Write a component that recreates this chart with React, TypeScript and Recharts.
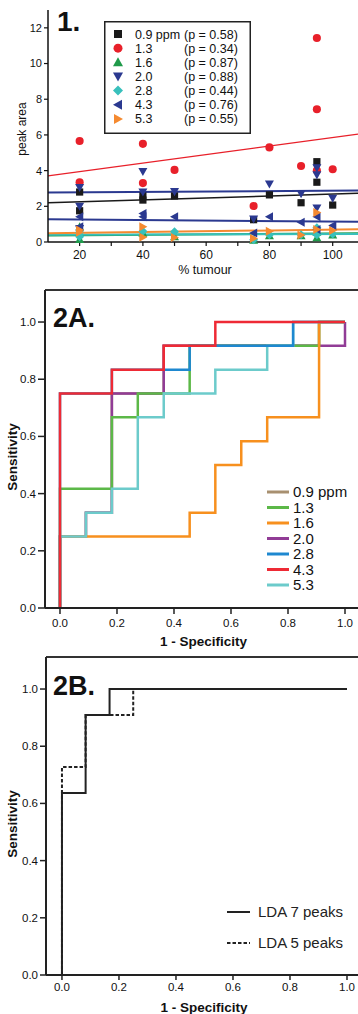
import React from 'react';
import {
  ScatterChart,
  Scatter,
  LineChart,
  Line,
  XAxis,
  YAxis,
  ReferenceLine,
  Legend,
  Label,
} from 'recharts';

const FONT = '"Liberation Sans", Arial, Helvetica, sans-serif';

// ---------- Panel 1: peak area vs % tumour ----------
const tumourTicks = [20, 30, 40, 50, 60, 70, 80, 90, 100];
const peakTicks = [0, 2, 4, 6, 8, 10, 12];

const pts09 = [[20, 2.8], [20, 1.75], [40, 2.58], [40, 2.35], [50, 2.58], [75, 1.25], [80, 2.64], [90, 2.2], [95, 4.5], [95, 3.35], [100, 2.07]];
const pts13 = [[20, 5.66], [20, 3.35], [40, 5.5], [40, 3.3], [50, 4.04], [75, 2.02], [80, 5.3], [90, 4.26], [95, 11.43], [95, 7.44], [95, 4.0], [100, 4.08]];
const pts16 = [[20, 0.85], [20, 0.15], [40, 0.5], [50, 0.3], [75, 0.1], [80, 0.35], [90, 0.35], [95, 0.25], [95, 0.55], [100, 0.4]];
const pts20 = [[20, 3.05], [20, 2.0], [20, 0.75], [40, 3.95], [40, 2.8], [50, 2.82], [75, 1.29], [80, 3.25], [90, 2.7], [95, 4.15], [95, 3.76], [95, 1.9], [100, 2.45]];
const pts28 = [[20, 0.3], [20, 0.55], [40, 0.6], [50, 0.58], [75, 0.12], [80, 0.4], [90, 0.4], [95, 0.8], [95, 0.4], [100, 0.45]];
const pts43 = [[20, 1.42], [20, 0.85], [40, 1.6], [40, 1.42], [50, 1.42], [75, 0.5], [80, 1.42], [90, 1.1], [95, 1.42], [95, 0.7], [100, 0.92]];
const pts53 = [[20, 0.67], [20, 0.55], [40, 0.86], [40, 0.26], [50, 0.25], [75, 0.2], [80, 0.6], [90, 0.39], [95, 1.65], [95, 0.7], [100, 0.64]];

// trend line end values at x = 10 and x = 108
const trendX = [10, 108];
const trend09 = [2.2, 2.73];
const trend13 = [3.7, 6.04];
const trend16 = [0.36, 0.49];
const trend20 = [2.77, 2.88];
const trend28 = [0.4, 0.45];
const trend43 = [1.27, 1.14];
const trend53 = [0.49, 0.71];

const peakLabels = ['0.9 ppm', '1.3', '1.6', '2.0', '2.8', '4.3', '5.3'];
const peakP = ['0.58', '0.34', '0.87', '0.88', '0.44', '0.76', '0.55'];

const scatterSeries = [
  { key: 's09', kind: 'square', color: '#1a1a1a', pts: pts09, trend: trend09, lw: 1.5 },
  { key: 's13', kind: 'circle', color: '#e8202a', pts: pts13, trend: trend13, lw: 1.2 },
  { key: 's16', kind: 'up', color: '#1f9a4a', pts: pts16, trend: trend16, lw: 2 },
  { key: 's20', kind: 'down', color: '#2b3990', pts: pts20, trend: trend20, lw: 2 },
  { key: 's28', kind: 'diamond', color: '#38c0bc', pts: pts28, trend: trend28, lw: 2 },
  { key: 's43', kind: 'left', color: '#2b3990', pts: pts43, trend: trend43, lw: 2 },
  { key: 's53', kind: 'right', color: '#f58a30', pts: pts53, trend: trend53, lw: 2 },
];

// ---------- Panel 2A: ROC curves per peak ----------
const rocTicks = [0, 0.2, 0.4, 0.6, 0.8, 1.0];
const roc09 = [[0, 0], [0, 0.25], [0.091, 0.333], [0.182, 0.75], [0.364, 0.917], [0.909, 1], [1, 1]];
const roc13 = [[0, 0], [0, 0.417], [0.182, 0.667], [0.273, 0.75], [0.455, 0.833], [0.455, 0.917], [0.909, 1], [1, 1]];
const roc16 = [[0, 0], [0, 0.25], [0.455, 0.333], [0.545, 0.5], [0.636, 0.583], [0.727, 0.667], [0.909, 1], [1, 1]];
const roc20 = [[0, 0], [0, 0.25], [0.091, 0.333], [0.182, 0.75], [0.364, 0.917], [1, 1]];
const roc28 = [[0, 0], [0, 0.75], [0.182, 0.833], [0.455, 0.917], [0.818, 1], [1, 1]];
const roc43 = [[0, 0], [0, 0.75], [0.182, 0.833], [0.364, 0.917], [0.545, 1], [1, 1]];
const roc53 = [[0, 0], [0, 0.25], [0.091, 0.333], [0.182, 0.417], [0.273, 0.667], [0.364, 0.75], [0.545, 0.833], [0.727, 0.917], [0.818, 1], [1, 1]];

const rocLabels = ['0.9 ppm', '1.3', '1.6', '2.0', '2.8', '4.3', '5.3'];
const rocColors = ['#a89070', '#5cb848', '#f7901e', '#913c96', '#1e88d0', '#ee2a35', '#6ccbcb'];
const rocSets = [roc09, roc13, roc16, roc20, roc28, roc43, roc53];
const rocDrawOrder = [0, 3, 1, 2, 6, 4, 5];

// ---------- Panel 2B: LDA ROC ----------
const lda7 = [[0, 0], [0, 0.636], [0.083, 0.909], [0.167, 1], [1, 1]];
const lda5 = [[0, 0], [0, 0.727], [0.083, 0.909], [0.25, 1], [1, 1]];
const ldaLabels = ['LDA 7 peaks', 'LDA 5 peaks'];

const toXY = (a: number[][]) => a.map(([x, y]) => ({ x, y }));
const toROC = (a: number[][]) => a.map(([fpr, tpr]) => ({ fpr, tpr }));
const f1 = (v: number) => v.toFixed(1);

function Marker({ cx, cy, kind, color, s = 4.5 }: any) {
  if (cx == null || cy == null) return null;
  const h = s * 0.8;
  switch (kind) {
    case 'square':
      return <rect x={cx - s * 0.8} y={cy - s * 0.8} width={s * 1.6} height={s * 1.6} fill={color} />;
    case 'circle':
      return <circle cx={cx} cy={cy} r={s * 0.9} fill={color} />;
    case 'up':
      return <polygon points={`${cx},${cy - s} ${cx + s},${cy + h} ${cx - s},${cy + h}`} fill={color} />;
    case 'down':
      return <polygon points={`${cx - s},${cy - h} ${cx + s},${cy - h} ${cx},${cy + s}`} fill={color} />;
    case 'left':
      return <polygon points={`${cx - s},${cy} ${cx + h},${cy - s} ${cx + h},${cy + s}`} fill={color} />;
    case 'right':
      return <polygon points={`${cx + s},${cy} ${cx - h},${cy - s} ${cx - h},${cy + s}`} fill={color} />;
    case 'diamond':
      return <polygon points={`${cx},${cy - s} ${cx + s},${cy} ${cx},${cy + s} ${cx - s},${cy}`} fill={color} />;
    default:
      return null;
  }
}

const Legend1 = () => (
  <svg width={147} height={113} style={{ display: 'block' }}>
    <rect x={0.75} y={0.75} width={145.5} height={111.5} fill="#fff" stroke="#222" strokeWidth={1.5} />
    {scatterSeries.map((s, i) => {
      const cy = 13 + i * 14.15;
      return (
        <g key={s.key}>
          <Marker cx={14} cy={cy} kind={s.kind} color={s.color} s={5} />
          <text x={31} y={cy + 4.5} fontSize={12.5} fontFamily={FONT} fill="#111">{peakLabels[i]}</text>
          <text x={80} y={cy + 4.5} fontSize={12.5} fontFamily={FONT} fill="#111">{`(p = ${peakP[i]})`}</text>
        </g>
      );
    })}
  </svg>
);

const Legend2A = () => (
  <svg width={93} height={112} style={{ display: 'block' }}>
    {rocLabels.map((l, i) => {
      const cy = 10 + i * 15.5;
      return (
        <g key={l}>
          <line x1={2} x2={24} y1={cy} y2={cy} stroke={rocColors[i]} strokeWidth={3} />
          <text x={28} y={cy + 5.4} fontSize={15} fontFamily={FONT} fill="#111">{l}</text>
        </g>
      );
    })}
  </svg>
);

const Legend2B = () => (
  <svg width={133} height={56} style={{ display: 'block' }}>
    {ldaLabels.map((l, i) => {
      const cy = 12 + i * 31;
      return (
        <g key={l}>
          <line x1={2} x2={25} y1={cy} y2={cy} stroke="#222" strokeWidth={2} strokeDasharray={i === 1 ? '3.5 2' : undefined} />
          <text x={33} y={cy + 5.4} fontSize={15} fontFamily={FONT} fill="#222">{l}</text>
        </g>
      );
    })}
  </svg>
);

const xTitle = (text: string, dy: number, size: number, bold: boolean) => (props: any) => {
  const vb = props.viewBox || { x: 0, y: 0, width: 0, height: 0 };
  return (
    <text x={vb.x + vb.width / 2 + 2} y={vb.y + dy} textAnchor="middle" fontSize={size}
      fontWeight={bold ? 'bold' : 'normal'} fontFamily={FONT} fill="#111">{text}</text>
  );
};

const yTitle = (text: string, x: number, dy: number, size: number, bold: boolean) => (props: any) => {
  const vb = props.viewBox || { x: 0, y: 0, width: 0, height: 0 };
  const cy = vb.y + vb.height / 2 + dy;
  return (
    <text x={x} y={cy} transform={`rotate(-90 ${x} ${cy})`} textAnchor="middle" dominantBaseline="central"
      fontSize={size} fontWeight={bold ? 'bold' : 'normal'} fontFamily={FONT} fill="#111">{text}</text>
  );
};

export default function App() {
  const tick11 = { fontSize: 11.5, fill: '#111', fontFamily: FONT };
  return (
    <div style={{ position: 'absolute', left: 0, top: 0, width: 358, height: 1014, background: '#fff', overflow: 'hidden' }}>
      {/* Panel 1 */}
      <div style={{ position: 'absolute', left: 0, top: 0 }}>
        <ScatterChart width={358} height={280} margin={{ top: 10, right: 0, bottom: 0, left: 0 }}>
          <XAxis type="number" dataKey="x" domain={[10, 108]} ticks={tumourTicks}
            tickFormatter={(v: number) => (v % 20 === 0 ? String(v) : '')}
            height={38} tickSize={4} tickMargin={4}
            axisLine={{ stroke: '#111', strokeWidth: 1.5 }} tickLine={{ stroke: '#111', strokeWidth: 1.2 }}
            tick={{ fontSize: 12, fill: '#111', fontFamily: FONT }}>
            <Label content={xTitle('% tumour', 32, 12.5, false)} />
          </XAxis>
          <YAxis type="number" dataKey="y" domain={[0, 13]} ticks={peakTicks} width={48}
            tickSize={4} tickMargin={2}
            axisLine={{ stroke: '#111', strokeWidth: 1.5 }} tickLine={{ stroke: '#111', strokeWidth: 1.2 }}
            tick={{ fontSize: 11, fill: '#111', fontFamily: FONT }}>
            <Label content={yTitle('peak area', 22, 3, 12, false)} />
          </YAxis>
          {scatterSeries.map((s) => (
            <ReferenceLine key={'t' + s.key} ifOverflow="visible"
              segment={[{ x: trendX[0], y: s.trend[0] }, { x: trendX[1], y: s.trend[1] }]}
              stroke={s.color} strokeWidth={s.lw} />
          ))}
          {scatterSeries.map((s) => (
            <Scatter key={s.key} data={toXY(s.pts)} isAnimationActive={false}
              shape={(p: any) => <Marker cx={p.cx} cy={p.cy} kind={s.kind} color={s.color} />} />
          ))}
          <Legend layout="vertical" align="center" verticalAlign="middle"
            wrapperStyle={{ left: 104, top: 21, width: 147, height: 113, margin: 0, padding: 0 }}
            content={() => <Legend1 />} />
        </ScatterChart>
      </div>

      {/* Panel 2A */}
      <div style={{ position: 'absolute', left: 0, top: 280 }}>
        <LineChart width={358} height={375} margin={{ top: 10, right: 0, bottom: 0, left: 0 }}>
          <XAxis type="number" dataKey="fpr" domain={[-0.0526, 1.0456]} ticks={rocTicks} tickFormatter={f1}
            height={47} tickSize={6} tickMargin={5}
            axisLine={{ stroke: '#222', strokeWidth: 2 }} tickLine={{ stroke: '#222', strokeWidth: 1.5 }}
            tick={tick11}>
            <Label content={xTitle('1 - Specificity', 38, 13.5, true)} />
          </XAxis>
          <YAxis type="number" domain={[0, 1.112]} ticks={rocTicks} tickFormatter={f1} width={45}
            tickSize={7} tickMargin={2}
            axisLine={{ stroke: '#222', strokeWidth: 2 }} tickLine={{ stroke: '#222', strokeWidth: 1.5 }}
            tick={tick11}>
            <Label content={yTitle('Sensitivity', 12, 8, 13.5, true)} />
          </YAxis>
          <ReferenceLine y={1.112} stroke="#333" strokeWidth={2} />
          {rocDrawOrder.map((i) => (
            <Line key={rocLabels[i]} data={toROC(rocSets[i])} dataKey="tpr" type="stepAfter"
              stroke={rocColors[i]} strokeWidth={2.5} dot={false} activeDot={false}
              isAnimationActive={false} />
          ))}
          <Legend layout="vertical" align="center" verticalAlign="middle"
            wrapperStyle={{ left: 265, top: 202, width: 93, height: 112, margin: 0, padding: 0 }}
            content={() => <Legend2A />} />
        </LineChart>
      </div>

      {/* Panel 2B */}
      <div style={{ position: 'absolute', left: 0, top: 647 }}>
        <LineChart width={358} height={367} margin={{ top: 10, right: 0, bottom: 0, left: 0 }}>
          <XAxis type="number" dataKey="fpr" domain={[-0.056, 1.0386]} ticks={rocTicks} tickFormatter={f1}
            height={39} tickSize={5} tickMargin={3}
            axisLine={{ stroke: '#222', strokeWidth: 2 }} tickLine={{ stroke: '#222', strokeWidth: 1.5 }}
            tick={tick11}>
            <Label content={xTitle('1 - Specificity', 37, 13.5, true)} />
          </XAxis>
          <YAxis type="number" domain={[0, 1.112]} ticks={rocTicks} tickFormatter={f1} width={46}
            tickSize={6} tickMargin={2}
            axisLine={{ stroke: '#222', strokeWidth: 2 }} tickLine={{ stroke: '#222', strokeWidth: 1.5 }}
            tick={tick11}>
            <Label content={yTitle('Sensitivity', 12, 8, 13.5, true)} />
          </YAxis>
          <ReferenceLine y={1.112} stroke="#333" strokeWidth={2} />
          <Line data={toROC(lda5)} dataKey="tpr" type="stepAfter" stroke="#222" strokeWidth={2}
            strokeDasharray="3.5 2" dot={false} activeDot={false} isAnimationActive={false} />
          <Line data={toROC(lda7)} dataKey="tpr" type="stepAfter" stroke="#222" strokeWidth={2}
            dot={false} activeDot={false} isAnimationActive={false} />
          <Legend layout="vertical" align="center" verticalAlign="middle"
            wrapperStyle={{ left: 225, top: 253, width: 133, height: 56, margin: 0, padding: 0 }}
            content={() => <Legend2B />} />
        </LineChart>
      </div>

      {/* Panel titles */}
      <svg width={358} height={1014} style={{ position: 'absolute', left: 0, top: 0, pointerEvents: 'none' }}>
        <text x={57} y={31} fontSize={28} fontWeight="bold" fontFamily={FONT} fill="#111">1.</text>
        <text x={53} y={327} fontSize={27} fontWeight="bold" fontFamily={FONT} fill="#111">2A.</text>
        <text x={53} y={695} fontSize={27} fontWeight="bold" fontFamily={FONT} fill="#111">2B.</text>
      </svg>
    </div>
  );
}
